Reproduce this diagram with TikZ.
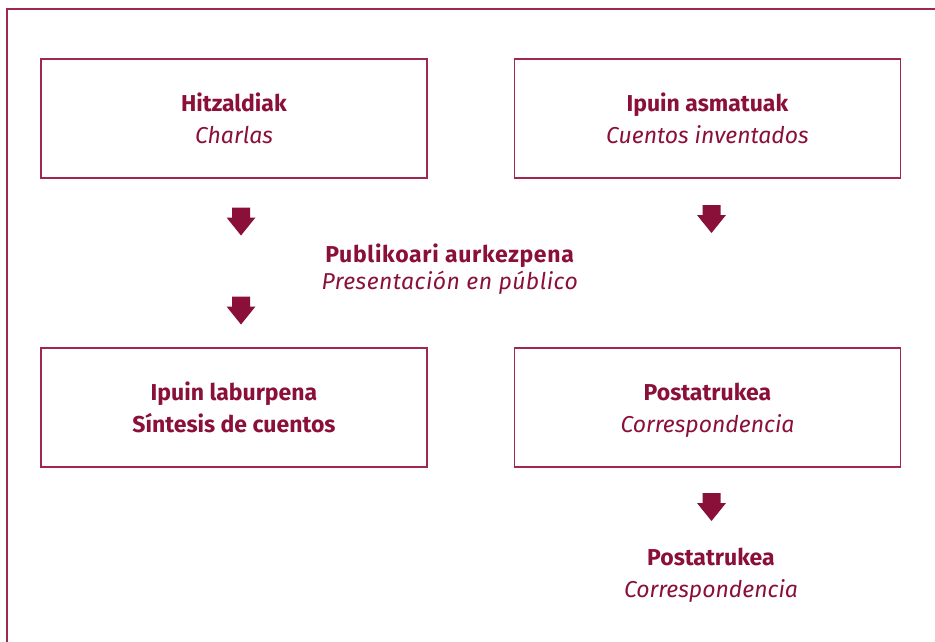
\documentclass[tikz,border=0pt]{standalone}
\usepackage{fontspec}
\setmainfont{Fira Sans}
\definecolor{crim}{RGB}{138,16,58}
\definecolor{crimline}{RGB}{160,40,80}
\begin{document}
\begin{tikzpicture}[x=1pt,y=-1pt,
  box/.style={draw=crimline,line width=1.6pt,minimum width=386pt,minimum height=119pt,inner sep=0pt,align=center,text=crim,font=\fontsize{23}{32}\selectfont},
  lbl/.style={align=center,text=crim,inner sep=0pt,font=\fontsize{23}{32}\selectfont},
  downarrow/.pic={\fill[crim] (-9,-14) -- (9,-14) -- (9,-4) -- (14.5,-4) -- (0,14) -- (-14.5,-4) -- (-9,-4) -- cycle;}]
\useasboundingbox (0,0) rectangle (935,641);
\draw[crimline,line width=1.6pt] (7,645) -- (7,9) -- (940,9);
\node[box] (b1) at (234,118.5) {\textbf{Hitzaldiak}\\\textit{Charlas}};
\node[box] (b2) at (707.5,118.5) {\textbf{Ipuin asmatuak}\\\textit{Cuentos inventados}};
\node[box] (b3) at (234,407.5) {\textbf{Ipuin laburpena}\\\textbf{Síntesis de cuentos}};
\node[box] (b4) at (707.5,407.5) {\textbf{Postatrukea}\\\raisebox{0pt}[\height][0pt]{\textit{Correspondencia}}};
\node[lbl,font=\fontsize{23}{27}\selectfont] (t1) at (450,269) {\textbf{\addfontfeatures{LetterSpace=3}Publikoari aurkezpena}\\\textit{\addfontfeatures{LetterSpace=2}Presentación en público}};
\node[lbl] (t2) at (711,575) {\textbf{Postatrukea}\\\textit{Correspondencia}};
\pic (a1) at (241,221.5) {downarrow};
\pic (a2) at (241,310.5) {downarrow};
\pic (a3) at (711.5,219) {downarrow};
\pic (a4) at (711.5,507) {downarrow};
\end{tikzpicture}
\end{document}
